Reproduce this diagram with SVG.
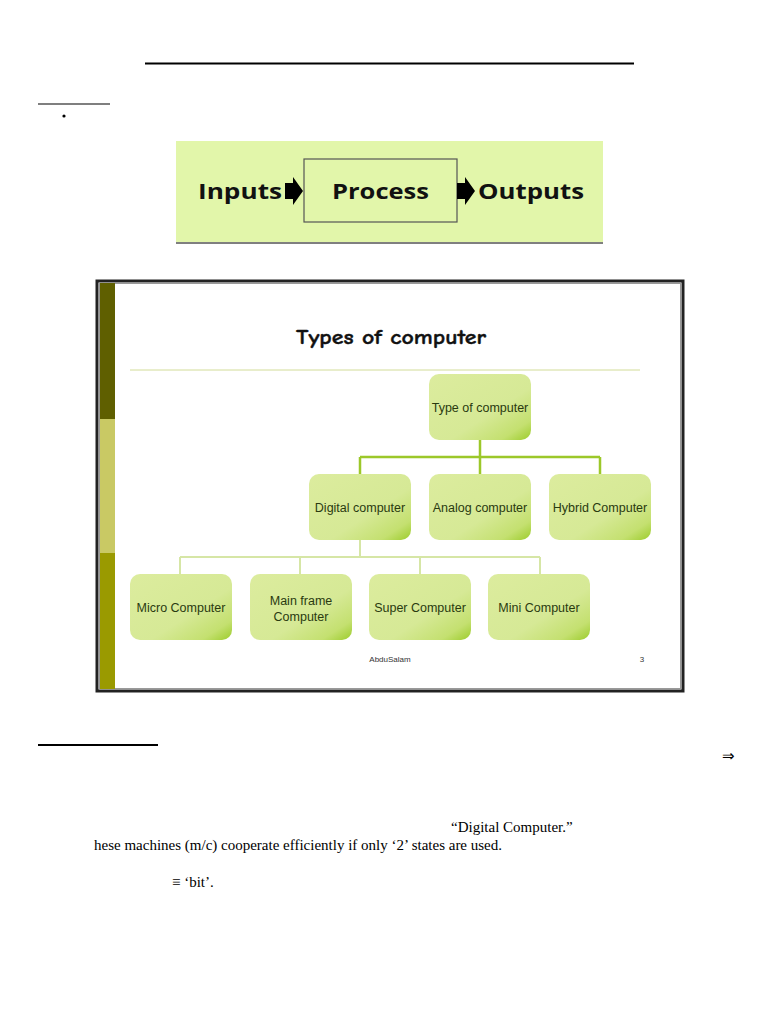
<svg xmlns="http://www.w3.org/2000/svg" width="768" height="1024" viewBox="0 0 768 1024">
<defs>
<linearGradient id="ng" x1="0" y1="0" x2="1" y2="1">
<stop offset="0" stop-color="#dcec9e"/>
<stop offset="0.6" stop-color="#d6e996"/>
<stop offset="0.85" stop-color="#c4e070"/>
<stop offset="1" stop-color="#9ccc2c"/>
</linearGradient>
<style>
.node rect{fill:url(#ng);}
.nt{font-family:"Liberation Sans",Arial,sans-serif;font-size:12.5px;fill:#2a3a10;text-anchor:middle;}
.doc{font-family:"Liberation Serif","Times New Roman",serif;font-size:15px;fill:#000;}
.big{font-family:"Open Sans","DejaVu Sans",sans-serif;font-weight:bold;font-size:22px;fill:#111;}
</style>
</defs>
<rect width="768" height="1024" fill="#fff"/>
<!-- top rules -->
<line x1="145" y1="63.5" x2="634" y2="63.5" stroke="#000" stroke-width="2"/>
<line x1="38" y1="104" x2="110" y2="104" stroke="#555" stroke-width="1.5"/>
<circle cx="64" cy="116" r="1.6" fill="#000"/>
<!-- IPO image -->
<g id="ipo">
<rect x="176" y="141" width="427" height="101" fill="#e2f6aa"/>
<line x1="176" y1="243" x2="603" y2="243" stroke="#000" stroke-width="1"/>
<rect x="304" y="159" width="153" height="63" fill="none" stroke="#555" stroke-width="1.2"/>
<text class="big" x="198" y="199" textLength="84" lengthAdjust="spacingAndGlyphs">Inputs</text>
<text class="big" x="332" y="199" textLength="97" lengthAdjust="spacingAndGlyphs">Process</text>
<text class="big" x="478" y="199" textLength="106" lengthAdjust="spacingAndGlyphs">Outputs</text>
<polygon points="285,183 293,183 293,177 303,191 293,205 293,199 285,199" fill="#000"/>
<polygon points="457,183 465,183 465,177 475,191 465,205 465,199 457,199" fill="#000"/>
</g>
<!-- slide -->
<g id="slide">
<rect x="97" y="281" width="586" height="410" fill="#fff" stroke="#222" stroke-width="3"/>
<rect x="99.5" y="283.5" width="581" height="405" fill="none" stroke="#999" stroke-width="1"/>
<rect x="100" y="283" width="15" height="136" fill="#5f5f00"/>
<rect x="100" y="419" width="15" height="134" fill="#c9c964"/>
<rect x="100" y="553" width="15" height="136" fill="#9a9a00"/>
<text x="296" y="344" textLength="190" lengthAdjust="spacingAndGlyphs" font-family="'Comic Neue','DejaVu Sans',sans-serif" font-weight="bold" font-size="21" fill="#111" stroke="#111" stroke-width="0.4">Types of computer</text>
<line x1="130" y1="370" x2="640" y2="370" stroke="#d2dc98" stroke-width="1"/>
<text x="390" y="662" text-anchor="middle" font-family="'Liberation Sans',sans-serif" font-size="8" fill="#333">AbduSalam</text>
<text x="642" y="662" text-anchor="middle" font-family="'Liberation Sans',sans-serif" font-size="8" fill="#333">3</text>
</g>
<g id="connectors" fill="none">
<path d="M480,440 V457 M360,457 H600 M360,457 V474 M480,457 V474 M600,457 V474" stroke="#9cc82a" stroke-width="2.5"/>
<path d="M360,540 V557 M180,557 H540 M180,557 V574 M300,557 V574 M420,557 V574 M540,557 V574" stroke="#d6e6a6" stroke-width="2"/>
</g>
<g id="n-type" class="node"><rect x="429" y="374" width="102" height="66" rx="10"/><text class="nt" x="480" y="412">Type of computer</text></g>
<g id="n-digital" class="node"><rect x="309" y="474" width="102" height="66" rx="10"/><text class="nt" x="360" y="512">Digital computer</text></g>
<g id="n-analog" class="node"><rect x="429" y="474" width="102" height="66" rx="10"/><text class="nt" x="480" y="512">Analog computer</text></g>
<g id="n-hybrid" class="node"><rect x="549" y="474" width="102" height="66" rx="10"/><text class="nt" x="600" y="512">Hybrid Computer</text></g>
<g id="n-micro" class="node"><rect x="130" y="574" width="102" height="66" rx="10"/><text class="nt" x="181" y="612">Micro Computer</text></g>
<g id="n-main" class="node"><rect x="250" y="574" width="102" height="66" rx="10"/><text class="nt" x="301" y="605">Main frame</text><text class="nt" x="301" y="621">Computer</text></g>
<g id="n-super" class="node"><rect x="369" y="574" width="102" height="66" rx="10"/><text class="nt" x="420" y="612">Super Computer</text></g>
<g id="n-mini" class="node"><rect x="488" y="574" width="102" height="66" rx="10"/><text class="nt" x="539" y="612">Mini Computer</text></g>
<!-- bottom text -->
<line x1="38" y1="745" x2="158" y2="745" stroke="#000" stroke-width="2"/>
<text class="doc" x="722" y="761">⇒</text>
<text class="doc" x="451" y="832">“Digital Computer.”</text>
<text class="doc" x="94" y="850">hese machines (m/c) cooperate efficiently if only ‘2’ states are used.</text>
<text class="doc" x="172" y="887">≡ ‘bit’.</text>
</svg>
